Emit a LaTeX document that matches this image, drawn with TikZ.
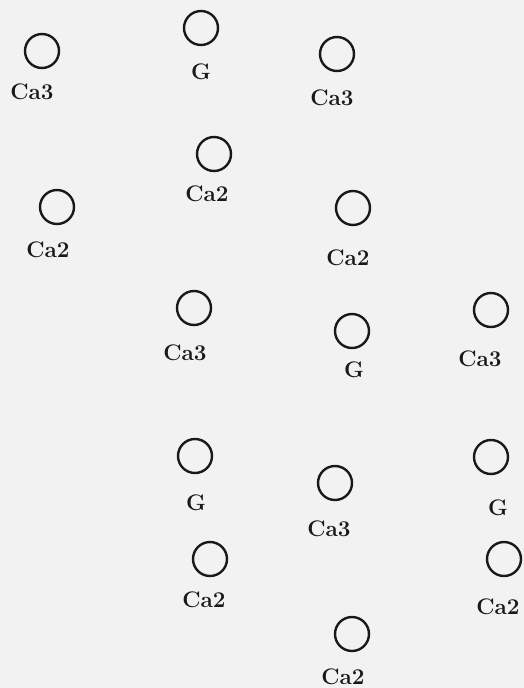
\documentclass[tikz,border=0pt]{standalone}
\usepackage{fontspec}
\usepackage{tikz}
\usetikzlibrary{positioning}
\definecolor{paper}{RGB}{242,242,242}
\definecolor{ink}{RGB}{25,25,25}

\begin{document}
\begin{tikzpicture}[
  x=1pt, y=-1pt,
  site/.style={draw=ink, circle, line width=2.4pt, minimum size=34pt, inner sep=0pt},
  lbl/.style={text=ink, font=\fontsize{22.5}{26}\selectfont\bfseries, inner sep=0pt}
]
\fill[paper] (0,0) rectangle (524,688);
\useasboundingbox (0,0) rectangle (524,688);

% top rows
\node[site] (s1) at (42,51) {};
\node[lbl] (l1) at (32,92) {Ca3};
\node[site] (s2) at (201,28) {};
\node[lbl] (l2) at (201,72) {G};
\node[site] (s3) at (337,54) {};
\node[lbl] (l3) at (332,98) {Ca3};

\node[site] (s4) at (214,154) {};
\node[lbl] (l4) at (207,194) {Ca2};
\node[site] (s5) at (57,207) {};
\node[lbl] (l5) at (48,250) {Ca2};
\node[site] (s6) at (353,208) {};
\node[lbl] (l6) at (348,258) {Ca2};

% middle row
\node[site] (s7) at (194,308) {};
\node[lbl] (l7) at (185,353) {Ca3};
\node[site] (s8) at (352,331) {};
\node[lbl] (l8) at (354,370) {G};
\node[site] (s9) at (491,310) {};
\node[lbl] (l9) at (480,359) {Ca3};

% bottom rows
\node[site] (s10) at (195,456) {};
\node[lbl] (l10) at (196,503) {G};
\node[site] (s11) at (335,483) {};
\node[lbl] (l11) at (329,529) {Ca3};
\node[site] (s12) at (491,457) {};
\node[lbl] (l12) at (498,508) {G};

\node[site] (s13) at (210,559) {};
\node[lbl] (l13) at (204,600) {Ca2};
\node[site] (s14) at (504,559) {};
\node[lbl] (l14) at (498,607) {Ca2};
\node[site] (s15) at (352,634) {};
\node[lbl] (l15) at (343,677) {Ca2};
\end{tikzpicture}
\end{document}
